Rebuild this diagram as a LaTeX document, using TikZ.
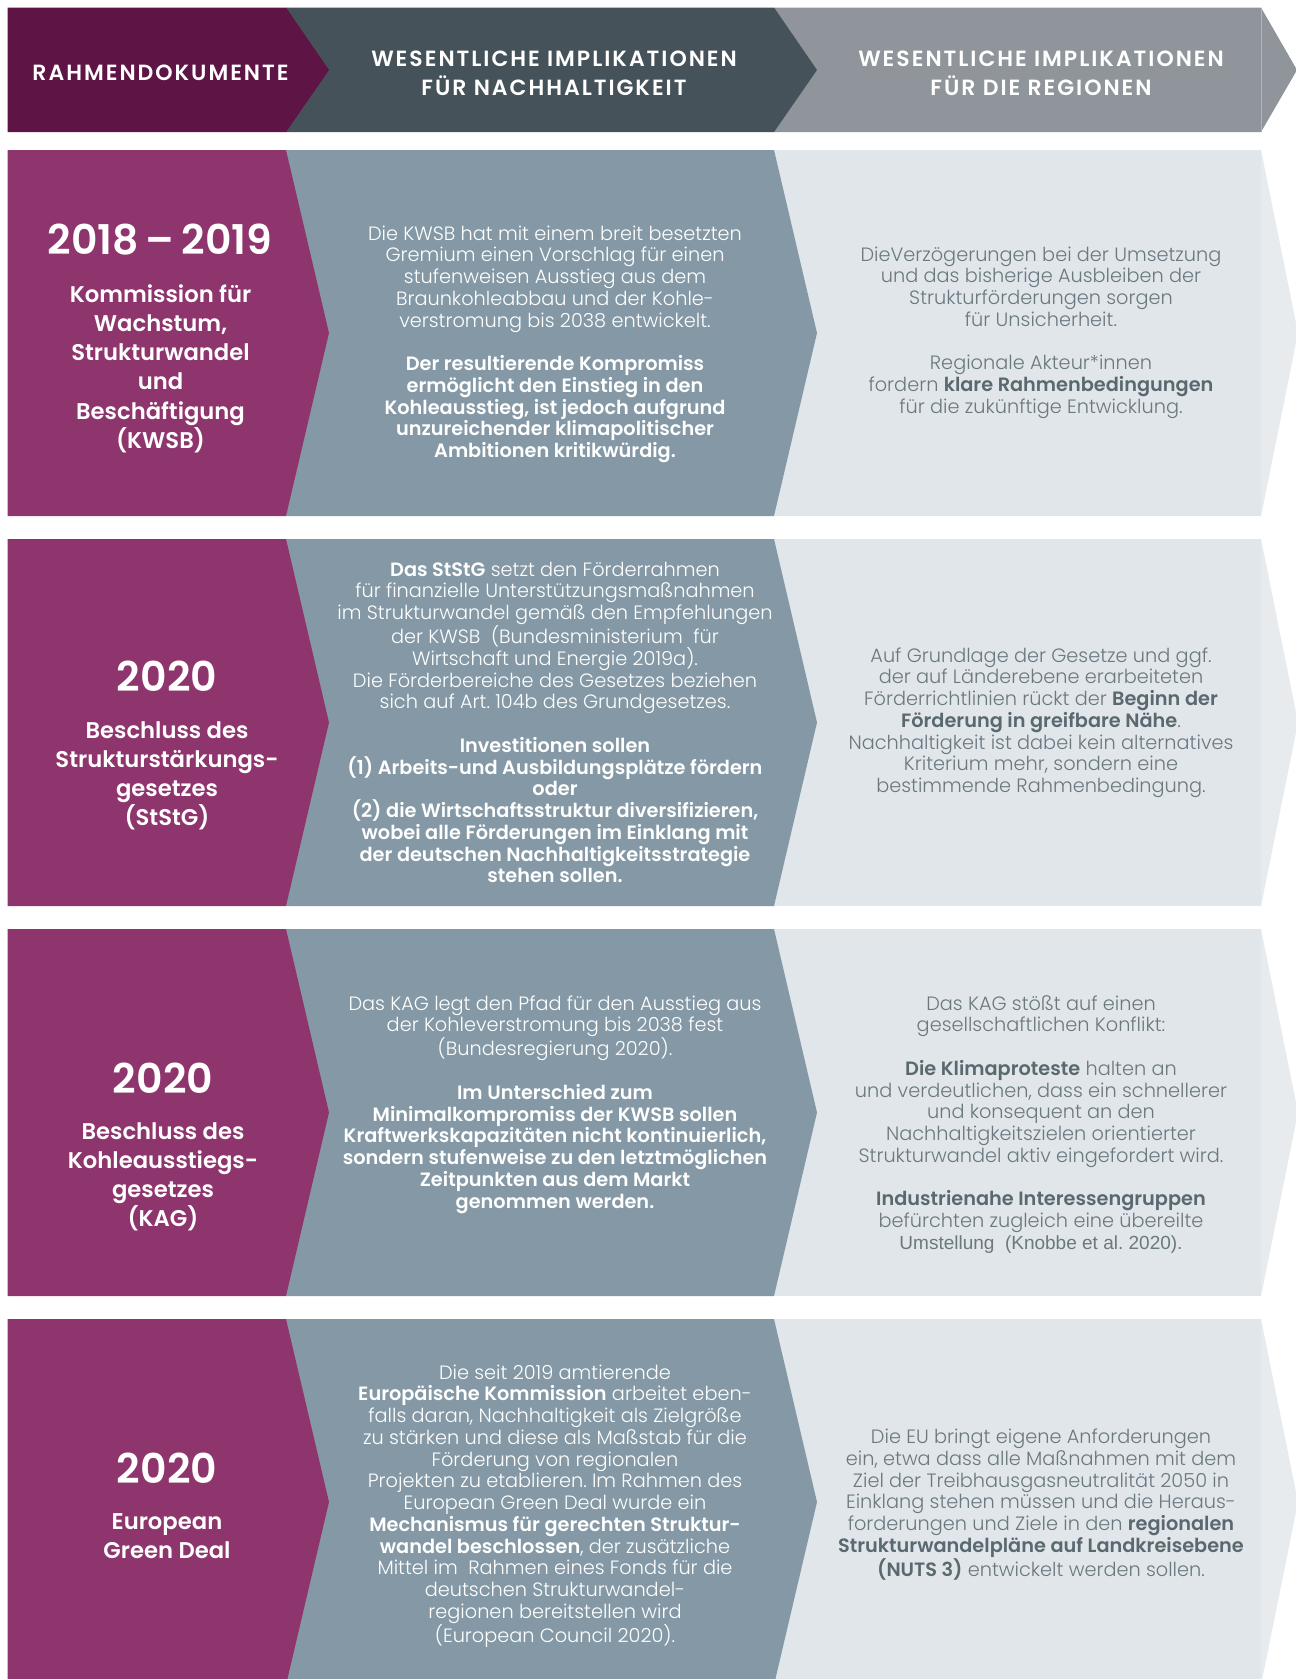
\documentclass[tikz,border=0pt]{standalone}
\usepackage{fontspec}
\setmainfont{Poppins}[UprightFont=* Light, BoldFont=* SemiBold]
\newfontfamily\arialf{Liberation Sans}
\definecolor{hpurple}{HTML}{5E1445}
\definecolor{hdark}{HTML}{465259}
\definecolor{hgrey}{HTML}{8F959B}
\definecolor{rpurple}{HTML}{8F356E}
\definecolor{rgrey}{HTML}{8499A5}
\definecolor{rlight}{HTML}{E1E6EA}
\definecolor{rtip}{HTML}{E7EBEE}
\definecolor{rtext}{HTML}{6A7880}
\definecolor{rbold}{HTML}{5A6870}
\newcommand\fsa{\rule{0pt}{20pt}}
\newcommand\fsb{\rule{0pt}{24pt}}
\newcommand\fsc{\rule{0pt}{22pt}}
\newcommand\rb[1]{{\bfseries\color{rbold}#1}}
\frenchspacing
\tikzset{
  basebox/.style={inner sep=0pt, outer sep=0pt, align=center, anchor=north},
  midtxt/.style={basebox, text=white, font=\fontsize{19.3}{21.75}\selectfont\frenchspacing},
  righttxt/.style={basebox, text=rtext, font=\fontsize{19.3}{21.75}\selectfont\frenchspacing},
  lefttxt/.style={basebox, text=white, font=\fontsize{22.7}{29.3}\selectfont\bfseries},
  yeartxt/.style={inner sep=0pt, outer sep=0pt, anchor=base, text=white, font=\fontsize{41}{44}\selectfont\bfseries},
  headtxt/.style={basebox, text=white, font=\fontsize{22}{29}\selectfont\bfseries\addfontfeature{LetterSpace=9}},
}
\newcommand\rowshapes[2]{%
  \fill[rlight] (774,#1) -- (1261,#1) -- (1261,#2) -- (774,#2) -- cycle;
  \fill[rtip] (1261,#1) -- (1298,{(#1+#2)/2}) -- (1261,#2) -- cycle;
  \fill[rgrey] (286,#1) -- (774,#1) -- (817,{(#1+#2)/2}) -- (774,#2) -- (286,#2) -- cycle;
  \fill[rpurple] (7.5,#1) -- (286,#1) -- (329,{(#1+#2)/2}) -- (286,#2) -- (7.5,#2) -- cycle;
}
\begin{document}
\begin{tikzpicture}[x=1pt,y=-1pt]
\useasboundingbox (0,0) rectangle (1296,1679);
\clip (0,0) rectangle (1296,1679);
\fill[white] (0,0) rectangle (1296,1679);
% header
\fill[hgrey] (774,7.5) -- (1261,7.5) -- (1297,70) -- (1261,132) -- (774,132) -- cycle;
\draw[line width=0.8pt, color=hgrey!70!white] (1261,7.5) -- (1261,132);
\fill[hdark] (286,7.5) -- (774,7.5) -- (817,70) -- (774,132) -- (286,132) -- cycle;
\fill[hpurple] (7.5,7.5) -- (286,7.5) -- (329,70) -- (286,132) -- (7.5,132) -- cycle;
\node[headtxt] (h1) at (160.5,58) {\fsc RAHMENDOKUMENTE};
\node[headtxt] (h2) at (554,44) {\fsc WESENTLICHE IMPLIKATIONEN\\FÜR NACHHALTIGKEIT};
\node[headtxt] (h3) at (1041,44) {\fsc WESENTLICHE IMPLIKATIONEN\\FÜR DIE REGIONEN};
% rows
\rowshapes{150}{516}
\rowshapes{539}{906}
\rowshapes{929}{1296}
\rowshapes{1319}{1685}
% row 1
\node[yeartxt] (y1) at (160,254) {2018\,–\,2019};
\node[lefttxt] (l1) at (160.5,278) {\fsb Kommission für\\Wachstum,\\Strukturwandel\\und\\Beschäftigung\\(KWSB)};
\node[midtxt] (m1) at (555,220) {\fsa Die KWSB hat mit einem breit besetzten\\Gremium einen Vorschlag für einen\\stufenweisen Ausstieg aus dem\\Braunkohleabbau und der Kohle-\\verstromung bis 2038 entwickelt.\\\mbox{}\\\bfseries Der resultierende Kompromiss\\\bfseries ermöglicht den Einstieg in den\\\bfseries Kohleausstieg, ist jedoch aufgrund\\\bfseries unzureichender klimapolitischer\\\bfseries Ambitionen kritikwürdig.};
\node[righttxt] (r1) at (1041,241) {\fsa DieVerzögerungen bei der Umsetzung\\und das bisherige Ausbleiben der\\Strukturförderungen sorgen\\für Unsicherheit.\\\mbox{}\\Regionale Akteur*innen\\fordern \rb{klare Rahmenbedingungen}\\für die zukünftige Entwicklung.};
% row 2
\node[yeartxt] (y2) at (167,691) {2020};
\node[lefttxt] (l2) at (167,714) {\fsb Beschluss des\\Strukturstärkungs-\\gesetzes\\(StStG)};
\node[midtxt] (m2) at (555,556) {\fsa\textbf{Das StStG} setzt den Förderrahmen\\für finanzielle Unterstützungsmaßnahmen\\im Strukturwandel gemäß den Empfehlungen\\der KWSB\ \ (Bundesministerium\ \ für\\Wirtschaft und Energie 2019a).\\Die Förderbereiche des Gesetzes beziehen\\sich auf Art. 104b des Grundgesetzes.\\\mbox{}\\\bfseries Investitionen sollen\\\bfseries (1) Arbeits-und Ausbildungsplätze fördern\\\bfseries oder\\\bfseries (2) die Wirtschaftsstruktur diversifizieren,\\\bfseries wobei alle Förderungen im Einklang mit\\\bfseries der deutschen Nachhaltigkeitsstrategie\\\bfseries stehen sollen.};
\node[righttxt] (r2) at (1041,642) {\fsa Auf Grundlage der Gesetze und ggf.\\der auf Länderebene erarbeiteten\\Förderrichtlinien rückt der \rb{Beginn der}\\\rb{Förderung in greifbare Nähe}.\\Nachhaltigkeit ist dabei kein alternatives\\Kriterium mehr, sondern eine\\bestimmende Rahmenbedingung.};
% row 3
\node[yeartxt] (y3) at (163,1093) {2020};
\node[lefttxt] (l3) at (163,1115) {\fsb Beschluss des\\Kohleausstiegs-\\gesetzes\\(KAG)};
\node[midtxt] (m3) at (555,990) {\fsa Das KAG legt den Pfad für den Ausstieg aus\\der Kohleverstromung bis 2038 fest\\(Bundesregierung 2020).\\\mbox{}\\\bfseries Im Unterschied zum\\\bfseries Minimalkompromiss der KWSB sollen\\\bfseries Kraftwerkskapazitäten nicht kontinuierlich,\\\bfseries sondern stufenweise zu den letztmöglichen\\\bfseries Zeitpunkten aus dem Markt\\\bfseries genommen werden.};
\node[righttxt] (r3) at (1041,990) {\fsa Das KAG stößt auf einen\\gesellschaftlichen Konflikt:\\\mbox{}\\\rb{Die Klimaproteste} halten an\\und verdeutlichen, dass ein schnellerer\\und konsequent an den\\Nachhaltigkeitszielen orientierter\\Strukturwandel aktiv eingefordert wird.\\\mbox{}\\\rb{Industrienahe Interessengruppen}\\befürchten zugleich eine übereilte\\{\arialf\fontsize{19}{21.75}\selectfont Umstellung\ \ (Knobbe et al. 2020).}};
% row 4
\node[yeartxt] (y4) at (167,1483) {2020};
\node[lefttxt] (l4) at (167,1505) {\fsb European\\Green Deal};
\node[midtxt] (m4) at (555,1359) {\fsa Die seit 2019 amtierende\\\textbf{Europäische Kommission} arbeitet eben-\\falls daran, Nachhaltigkeit als Zielgröße\\zu stärken und diese als Maßstab für die\\Förderung von regionalen\\Projekten zu etablieren. Im Rahmen des\\European Green Deal wurde ein\\\textbf{Mechanismus für gerechten Struktur-}\\\textbf{wandel beschlossen}, der zusätzliche\\Mittel im\ \ Rahmen eines Fonds für die\\deutschen Strukturwandel-\\regionen bereitstellen wird\\(European Council 2020).};
\node[righttxt] (r4) at (1041,1423.5) {\fsa Die EU bringt eigene Anforderungen\\ein, etwa dass alle Maßnahmen mit dem\\Ziel der Treibhausgasneutralität 2050 in\\Einklang stehen müssen und die Heraus-\\forderungen und Ziele in den \rb{regionalen}\\\rb{Strukturwandelpläne auf Landkreisebene}\\\rb{(NUTS 3)} entwickelt werden sollen.};
\end{tikzpicture}
\end{document}
